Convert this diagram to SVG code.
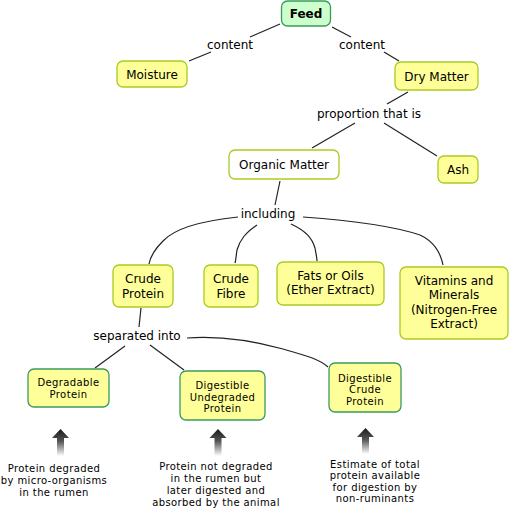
<svg xmlns="http://www.w3.org/2000/svg" width="509" height="508" viewBox="0 0 509 508">
<defs>
<linearGradient id="ag" x1="0" y1="0" x2="0" y2="1">
<stop offset="0" stop-color="#1a1a1a"/>
<stop offset="0.45" stop-color="#555"/>
<stop offset="1" stop-color="#fff"/>
</linearGradient>
<style>
text{font-family:"DejaVu Sans",Verdana,sans-serif;fill:#000;text-anchor:middle}
.t{font-size:12px}
.s{font-size:10px;letter-spacing:0.4px}
.y{fill:#ffff99;stroke:#aacc22;stroke-width:1.3}
.g{fill:#ffff99;stroke:#3a9a5e;stroke-width:1.3}
.w{fill:#fff;stroke:#aacc22;stroke-width:1.3}
.f{fill:#ccffcc;stroke:#3a9a5e;stroke-width:1.3}
.c path,.c line{stroke:#222;stroke-width:1.2;fill:none}
.ar{fill:url(#ag)}
</style>
</defs>
<g class="c" id="connectors">
<line x1="280" y1="24" x2="250" y2="37"/>
<line x1="211" y1="52" x2="189" y2="61"/>
<line x1="332" y1="27" x2="351" y2="37"/>
<line x1="384" y1="52" x2="399" y2="61"/>
<line x1="408" y1="92" x2="387" y2="104"/>
<line x1="355" y1="123" x2="312" y2="148"/>
<line x1="384" y1="123" x2="437" y2="156"/>
<line x1="280" y1="181" x2="275" y2="205"/>
<path d="M238,217 C200,221 175,228 163,241 C153,251 150,258 149,264"/>
<path d="M257,225 C245,233 240,240 237,250 C236,256 236,260 235,263"/>
<path d="M291,224 C306,231 312,238 315,248 C316,254 317,258 317,261"/>
<path d="M303,217 C345,220 390,225 420,235 C435,242 441,255 443,265"/>
<line x1="141" y1="308" x2="139" y2="327"/>
<line x1="125" y1="346" x2="95" y2="368"/>
<line x1="150" y1="345" x2="184" y2="370"/>
<path d="M187,338 C215,336 250,340 283,349 C300,354 318,358 328,367"/>
</g>
<g id="feed"><rect class="f" x="281.5" y="1" width="49" height="25" rx="6"/><text class="t" x="306" y="17.5" font-weight="bold">Feed</text></g>
<g id="moisture"><rect class="y" x="117" y="61" width="70" height="26" rx="6"/><text class="t" x="152" y="78.5">Moisture</text></g>
<g id="drymatter"><rect class="y" x="395" y="62" width="83" height="28" rx="6"/><text class="t" x="436.5" y="80.5">Dry Matter</text></g>
<g id="organic"><rect class="w" x="229" y="150" width="110" height="29" rx="6"/><text class="t" x="284" y="168.5">Organic Matter</text></g>
<g id="ash"><rect class="y" x="438" y="156" width="40" height="27" rx="6"/><text class="t" x="458" y="174">Ash</text></g>
<g id="crudeprotein"><rect class="y" x="113" y="265" width="60" height="42" rx="6"/><text class="t" x="143" y="283">Crude</text><text class="t" x="143" y="297.5">Protein</text></g>
<g id="crudefibre"><rect class="y" x="204" y="265" width="54" height="42" rx="6"/><text class="t" x="231" y="283">Crude</text><text class="t" x="231" y="297.5">Fibre</text></g>
<g id="fats"><rect class="y" x="277" y="262" width="107" height="43" rx="6"/><text class="t" x="330.5" y="279.5">Fats or Oils</text><text class="t" x="330.5" y="294">(Ether Extract)</text></g>
<g id="vitamins"><rect class="y" x="400" y="267" width="108" height="72" rx="6"/><text class="t" x="454" y="285">Vitamins and</text><text class="t" x="454" y="299">Minerals</text><text class="t" x="454" y="313.5">(Nitrogen-Free</text><text class="t" x="454" y="327.5">Extract)</text></g>
<g id="degradable"><rect class="g" x="28" y="369" width="81" height="38" rx="6"/><text class="s" x="68.5" y="386">Degradable</text><text class="s" x="68.5" y="398">Protein</text></g>
<g id="dup"><rect class="g" x="180" y="371" width="85" height="49" rx="6"/><text class="s" x="222.5" y="388.5">Digestible</text><text class="s" x="222.5" y="400.5">Undegraded</text><text class="s" x="222.5" y="412">Protein</text></g>
<g id="dcp"><rect class="g" x="329" y="363" width="72" height="49" rx="6"/><text class="s" x="365" y="381.5">Digestible</text><text class="s" x="365" y="393">Crude</text><text class="s" x="365" y="404.5">Protein</text></g>
<g id="labels">
<text class="t" x="230" y="48.5">content</text>
<text class="t" x="362" y="48.5">content</text>
<text class="t" x="369" y="118">proportion that is</text>
<text class="t" x="268" y="218">including</text>
<text class="t" x="137" y="340">separated into</text>
</g>
<g id="arrows">
<path class="ar" d="M60.5,429 L69,438 L64,438 L64,456 L57,456 L57,438 L52,438 Z"/>
<path class="ar" d="M218,429 L226.5,438 L221.5,438 L221.5,456 L214.5,456 L214.5,438 L209.5,438 Z"/>
<path class="ar" d="M365.5,428 L374,437 L369,437 L369,454 L362,454 L362,437 L357,437 Z"/>
</g>
<g id="notes">
<text class="s" x="54" y="471.5">Protein degraded</text>
<text class="s" x="54" y="483.5">by micro-organisms</text>
<text class="s" x="54" y="495.5">in the rumen</text>
<text class="s" x="216" y="470">Protein not degraded</text>
<text class="s" x="216" y="482">in the rumen but</text>
<text class="s" x="216" y="494">later digested and</text>
<text class="s" x="216" y="505.5">absorbed by the animal</text>
<text class="s" x="375" y="467.5">Estimate of total</text>
<text class="s" x="375" y="479">protein available</text>
<text class="s" x="375" y="490.5">for digestion by</text>
<text class="s" x="375" y="502">non-ruminants</text>
</g>
</svg>
